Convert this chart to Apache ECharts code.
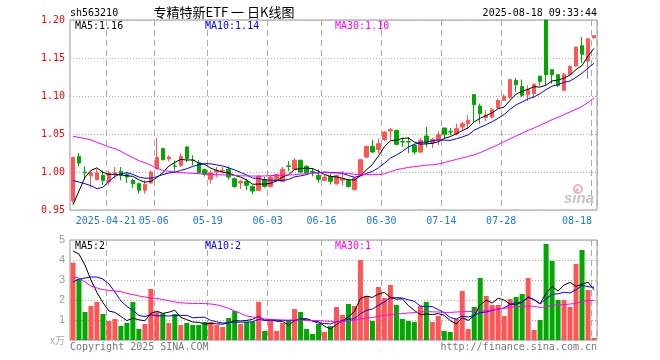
<!DOCTYPE html>
<html><head><meta charset="utf-8">
<script src="https://cdn.jsdelivr.net/npm/echarts@6.0.0/dist/echarts.min.js"></script>
<style>html,body{margin:0;padding:0;background:#fff}#c{width:660px;height:360px}</style>
</head><body><div id="c"></div>
<script>
const dates = [
'2025-04-11','2025-04-14','2025-04-15','2025-04-16','2025-04-17','2025-04-18','2025-04-21','2025-04-22','2025-04-23','2025-04-24','2025-04-25','2025-04-28','2025-04-29','2025-04-30',
'2025-05-06','2025-05-07','2025-05-08','2025-05-09','2025-05-12','2025-05-13','2025-05-14','2025-05-15','2025-05-16','2025-05-19','2025-05-20','2025-05-21','2025-05-22','2025-05-23','2025-05-26','2025-05-27','2025-05-28','2025-05-29','2025-05-30',
'2025-06-03','2025-06-04','2025-06-05','2025-06-06','2025-06-09','2025-06-10','2025-06-11','2025-06-12','2025-06-13','2025-06-16','2025-06-17','2025-06-18','2025-06-19','2025-06-20','2025-06-23','2025-06-24','2025-06-25','2025-06-26','2025-06-27','2025-06-30',
'2025-07-01','2025-07-02','2025-07-03','2025-07-04','2025-07-07','2025-07-08','2025-07-09','2025-07-10','2025-07-11','2025-07-14','2025-07-15','2025-07-16','2025-07-17','2025-07-18','2025-07-21','2025-07-22','2025-07-23','2025-07-24','2025-07-25','2025-07-28','2025-07-29','2025-07-30','2025-07-31',
'2025-08-01','2025-08-04','2025-08-05','2025-08-06','2025-08-07','2025-08-08','2025-08-11','2025-08-12','2025-08-13','2025-08-14','2025-08-15','2025-08-18'];

const tickDates  = ['2025-04-21','2025-05-06','2025-05-19','2025-06-03','2025-06-16','2025-06-30','2025-07-14','2025-07-28','2025-08-18'];
const tickLabels = ['2025-04-21','05-06','05-19','06-03','06-16','06-30','07-14','07-28','08-18'];

const openP = [
0.962,1.0206,1.000,0.995,0.990,0.9956,0.987,0.998,1.001,0.9965,
0.989,0.9846,0.976,0.9855,1.0044,1.0307,1.0171,1.008,1.0087,1.0329,
1.0155,1.012,1.003,0.9903,1.000,1.0015,1.0035,0.9912,0.9855,0.9877,
0.981,0.976,0.990,0.981,0.989,0.9877,1.008,1.0035,1.0154,1.0075,
1.001,0.9956,0.989,0.9943,0.9846,0.989,0.989,0.9768,0.9956,1.0197,
1.0338,1.0294,1.0425,1.0539,1.0548,1.0399,1.040,1.0351,1.0263,1.0474,
1.0382,1.0417,1.0579,1.053,1.0504,1.0592,1.0636,1.1018,1.0868,1.0715,
1.0724,1.0846,1.0943,1.0978,1.1206,1.1127,1.1018,1.1031,1.1259,1.200,
1.1346,1.1281,1.1075,1.1285,1.1395,1.1662,1.146,1.1768];
const highP = [
1.020,1.025,1.0075,1.002,1.004,1.002,1.002,1.0066,1.0066,1.000,
0.991,0.986,0.989,1.0022,1.045,1.032,1.022,1.0154,1.025,1.0338,
1.022,1.0154,1.0044,1.0022,1.0066,1.0066,1.0075,0.993,0.990,0.9912,
0.9825,0.9956,0.9934,0.9956,0.9978,1.0066,1.0145,1.0184,1.0162,1.0088,
1.0053,1.0035,0.9965,0.9978,0.9965,1.0013,0.9912,0.9934,1.0162,1.0338,
1.0425,1.0439,1.054,1.0579,1.0557,1.0452,1.0461,1.0373,1.0452,1.0592,
1.0452,1.0539,1.0579,1.0579,1.0636,1.0658,1.0746,1.1018,1.090,1.0811,
1.0842,1.0965,1.1022,1.1228,1.1237,1.1215,1.114,1.1162,1.1272,1.200,
1.1346,1.1281,1.1303,1.1404,1.1645,1.1776,1.1754,1.1794];
const lowP = [
0.960,1.0075,0.992,0.980,0.989,0.983,0.983,0.991,0.989,0.9855,
0.979,0.9715,0.9715,0.985,1.003,1.0154,1.014,1.000,1.0066,1.0132,
1.0087,0.998,0.994,0.9846,0.993,0.998,0.990,0.9794,0.9776,0.976,
0.9706,0.9746,0.9794,0.980,0.988,0.987,1.0013,1.0022,0.9987,0.9978,
0.9943,0.986,0.988,0.9833,0.9833,0.9825,0.9794,0.976,0.9947,1.0184,
1.025,1.0241,1.0408,1.0417,1.035,1.0329,1.025,1.0232,1.025,1.0329,
1.0316,1.0351,1.0439,1.0482,1.0482,1.0548,1.057,1.065,1.0636,1.0671,
1.0702,1.0833,1.0934,1.0965,1.1053,1.0987,1.0934,1.0974,1.114,1.114,
1.1162,1.1118,1.1066,1.1281,1.1382,1.1434,1.1228,1.1754];
const closeP = [
1.019,1.0118,0.999,0.9987,0.999,0.989,0.9987,0.999,0.9956,0.9934,
0.9846,0.976,0.9838,1.000,1.019,1.0162,1.0197,1.0075,1.0205,1.0175,
1.015,0.999,0.997,0.999,1.002,1.0022,0.9934,0.981,0.9877,0.9825,
0.975,0.9943,0.981,0.9934,0.9965,1.0035,1.0075,1.0154,1.000,0.999,
1.0005,0.9904,0.9934,0.9877,0.9956,0.9912,0.981,0.992,1.0162,1.0338,
1.0263,1.0373,1.0526,1.0557,1.0364,1.0395,1.0395,1.0263,1.0417,1.0382,
1.043,1.0491,1.0496,1.0526,1.057,1.0636,1.068,1.0886,1.0768,1.0746,
1.082,1.0943,1.0996,1.1215,1.1149,1.1009,1.1083,1.1154,1.1193,1.1281,
1.1281,1.114,1.1285,1.139,1.1645,1.1548,1.1754,1.1794];

const ma5 = [
0.957,0.975,0.993,1.002,1.0055,0.9995,0.9969,0.9969,0.9963,0.9951,
0.9943,0.9897,0.9867,0.9876,0.9927,0.999,1.0077,1.0125,1.0166,1.0157,
1.0160,1.0118,1.0099,1.0050,1.0022,0.9998,0.9987,0.9955,0.9933,0.9894,
0.9839,0.9841,0.9841,0.9852,0.988,0.9937,0.9964,1.0033,1.0046,1.0051,
1.0045,1.0011,0.9967,0.9942,0.9935,0.9917,0.9898,0.9895,0.9952,1.0028,
1.0099,1.0211,1.0332,1.0411,1.0417,1.0443,1.0447,1.0395,1.0367,1.037,
1.0377,1.0397,1.0443,1.0465,1.0503,1.0544,1.0582,1.066,1.0708,1.0743,
1.078,1.0833,1.0855,1.0944,1.1025,1.1062,1.109,1.1122,1.1118,1.1144,
1.1198,1.121,1.1236,1.1275,1.1348,1.1402,1.1524,1.1626];
const ma10 = [
0.9886,0.9868,0.9846,0.982,0.978,0.980,0.9877,0.9943,0.9978,0.999,
0.9969,0.9933,0.9918,0.9919,0.9939,0.9966,0.9987,0.9996,1.0021,1.0043,
1.0073,1.0096,1.0109,1.0108,1.0093,1.008,1.0054,1.0027,0.9994,0.9961,
0.9921,0.9914,0.9898,0.9893,0.9887,0.9888,0.9902,0.9937,0.9949,0.9966,
0.9991,0.9987,1.000,0.9994,0.9993,0.9981,0.9954,0.9931,0.9947,0.9982,
1.0008,1.0055,1.0114,1.0182,1.0223,1.0271,1.0329,1.0364,1.0389,1.0394,
1.041,1.0422,1.0419,1.0416,1.0437,1.0461,1.0489,1.0551,1.0587,1.0623,
1.0662,1.0707,1.0757,1.0826,1.0884,1.0921,1.0962,1.0988,1.1031,1.1084,
1.113,1.115,1.1179,1.1197,1.1246,1.13,1.1367,1.1431];
const ma30 = [
1.0471,1.0454,1.0441,1.0421,1.039,1.036,1.0329,1.0307,1.0272,1.0228,
1.0189,1.0149,1.0123,1.0088,1.0048,1.0022,1.0009,1.000,0.9991,0.9987,
0.9982,0.9978,0.9974,0.9969,0.9965,0.9962,0.996,0.9955,0.995,0.9948,
0.9947,0.9947,0.9947,0.9952,0.9956,0.9958,0.996,0.9965,0.9974,0.9978,
0.9987,0.9991,0.9991,0.9987,0.9988,0.9985,0.998,0.997,0.9966,0.9965,
0.9965,0.9967,0.9975,1.0005,1.003,1.0045,1.006,1.007,1.008,1.009,
1.0095,1.0105,1.0125,1.0145,1.0165,1.0185,1.0205,1.0225,1.0255,1.029,
1.0325,1.036,1.04,1.0437,1.0475,1.051,1.0548,1.058,1.0615,1.065,
1.0689,1.072,1.0755,1.079,1.0825,1.0862,1.0915,1.0975];

const vol = [
3.87,3.05,1.40,1.70,1.90,1.30,0.95,1.05,0.70,0.85,
1.90,0.55,0.80,2.55,1.40,1.33,0.85,1.30,0.75,0.85,
0.75,0.75,0.90,0.90,0.75,0.65,1.10,1.45,0.80,0.90,
0.90,1.90,0.45,1.00,0.45,0.85,1.00,1.55,1.40,0.55,
0.30,0.80,0.40,0.70,1.65,1.25,1.80,1.70,4.00,2.20,
0.95,2.65,2.10,2.75,1.75,1.05,0.95,0.90,1.70,1.90,
0.90,1.20,0.45,0.40,1.05,2.45,0.55,1.65,3.10,2.20,
1.75,1.75,1.20,2.05,2.15,2.30,3.10,0.50,1.00,4.80,
3.95,2.00,2.00,1.65,3.80,4.50,2.50,0.10];
const vma5 = [
4.45,4.30,3.75,3.00,2.38,1.87,1.45,1.38,1.18,0.97,
1.09,1.01,0.96,1.33,1.44,1.33,1.39,1.49,1.13,1.02,
0.90,0.88,0.80,0.83,0.81,0.79,0.86,0.97,0.95,0.98,
1.03,1.19,0.99,1.03,0.94,0.93,0.75,0.97,1.05,1.07,
0.96,0.92,0.69,0.55,0.77,0.96,1.16,1.42,2.08,2.19,
2.13,2.30,2.38,2.13,2.04,2.06,1.72,1.48,1.27,1.30,
1.27,1.32,1.23,0.97,0.80,1.11,0.98,1.22,1.76,1.99,
1.85,2.09,2.00,1.79,1.78,1.89,2.16,2.02,1.81,2.34,
2.67,2.45,2.75,2.88,2.68,2.79,2.89,2.51];
const vma10 = [
2.90,3.05,3.10,3.15,3.15,3.05,2.80,2.40,1.95,1.68,
1.48,1.23,1.17,1.26,1.21,1.21,1.20,1.22,1.23,1.23,
1.11,1.13,1.14,0.98,0.91,0.85,0.87,0.89,0.89,0.90,
0.91,1.03,0.98,0.99,0.96,0.98,0.97,0.98,1.04,1.01,
0.95,0.84,0.83,0.80,0.92,0.96,1.04,1.06,1.32,1.48,
1.55,1.73,1.90,2.11,2.12,2.10,2.01,1.93,1.70,1.67,
1.67,1.52,1.36,1.12,1.05,1.19,1.15,1.23,1.37,1.40,
1.48,1.54,1.61,1.78,1.89,1.87,2.13,2.01,1.80,2.06,
2.28,2.31,2.39,2.35,2.51,2.73,2.67,2.63];
const vma30 = [
3.15,3.10,2.90,2.70,2.60,2.52,2.48,2.45,2.42,2.33,
2.27,2.20,2.15,2.10,2.08,2.02,1.97,1.90,1.86,1.84,
1.83,1.83,1.82,1.80,1.76,1.68,1.58,1.45,1.33,1.20,
1.15,1.12,1.05,1.03,1.02,1.00,1.00,1.00,1.00,0.98,
0.97,0.97,0.95,0.93,0.90,0.92,0.95,0.98,1.05,1.10,
1.12,1.18,1.22,1.27,1.30,1.32,1.35,1.37,1.40,1.42,
1.41,1.40,1.38,1.38,1.40,1.42,1.42,1.43,1.45,1.47,
1.50,1.55,1.58,1.63,1.67,1.68,1.70,1.68,1.63,1.65,
1.74,1.75,1.77,1.80,1.83,1.92,1.98,1.97];

const RED = '#ff5555', GREEN = '#00a800';
const MONO = 'DejaVu Sans Mono';
const isTick = (i, v) => tickDates.indexOf(v) >= 0;
const last = a => a[a.length - 1];

function txt(x, y, text, fill, font, align) {
  return { type: 'text', x: x, y: y, z: 100, silent: true,
    style: { text: text, fill: fill, font: font, align: align || 'left', textAlign: align || 'left',
             verticalAlign: 'middle', textVerticalAlign: 'middle' } };
}

const splitV = { show: true, interval: isTick, lineStyle: { color: '#aaa', width: 1, type: [6, 4] } };
const splitH = { show: true, lineStyle: { color: '#aaa', width: 1, type: [1, 2] } };

function maLine(data, color, xi) {
  return { type: 'line', data: data, xAxisIndex: xi, yAxisIndex: xi, symbol: 'none', smooth: false,
    lineStyle: { color: color, width: 1 }, itemStyle: { color: color }, silent: true, z: 5 };
}

const option = {
  animation: false,
  backgroundColor: '#fff',
  grid: [
    { left: 70, top: 20, width: 527, height: 190, show: true, borderColor: '#999', borderWidth: 1 },
    { left: 70, top: 240, width: 527, height: 100, show: true, borderColor: '#999', borderWidth: 1 }
  ],
  xAxis: [
    { type: 'category', gridIndex: 0, data: dates, boundaryGap: true,
      axisLine: { show: false }, axisTick: { show: false }, splitLine: splitV,
      axisLabel: { interval: isTick, margin: 6,
        formatter: v => { const k = tickDates.indexOf(v); return (k === tickDates.length - 1 ? '{e|' : '{n|') + tickLabels[k] + '}'; },
        rich: {
          n: { color: '#1a7ad8', fontFamily: MONO, fontSize: 10, padding: [0, 6, 0, 0] },
          e: { color: '#1a7ad8', fontFamily: MONO, fontSize: 10, padding: [0, 34, 0, 0] }
        } } },
    { type: 'category', gridIndex: 1, data: dates, boundaryGap: true,
      axisLine: { show: false }, axisTick: { show: false }, axisLabel: { show: false }, splitLine: splitV }
  ],
  yAxis: [
    { type: 'value', gridIndex: 0, min: 0.95, max: 1.20, interval: 0.05, scale: true,
      axisLine: { show: false }, axisTick: { show: false }, splitLine: splitH,
      axisLabel: { formatter: v => v.toFixed(2), color: '#ff0000', fontFamily: MONO, fontSize: 10, margin: 5 } },
    { type: 'value', gridIndex: 1, min: 0, max: 5, interval: 1,
      axisLine: { show: false }, axisTick: { show: false }, splitLine: splitH,
      axisLabel: { margin: 5,
        formatter: v => v === 0 ? '{u|x万}' : '{g|' + v + '}',
        rich: { g: { color: '#999', fontFamily: 'Liberation Sans', fontSize: 11 },
                u: { color: '#aaa', fontFamily: 'Noto Sans CJK SC', fontSize: 10 } } } }
  ],
  series: [
    { type: 'candlestick', xAxisIndex: 0, yAxisIndex: 0, barWidth: 4, z: 3,
      data: openP.map((o, i) => [o, closeP[i], lowP[i], highP[i]]),
      itemStyle: { color: RED, color0: GREEN, borderColor: RED, borderColor0: GREEN, borderWidth: 1 } },
    maLine(ma5, '#000000', 0),
    maLine(ma10, '#0000ff', 0),
    maLine(ma30, '#ff00ff', 0),
    { type: 'bar', xAxisIndex: 1, yAxisIndex: 1, barWidth: 5, z: 3,
      data: vol.map((v, i) => ({ value: v, itemStyle: { color: closeP[i] >= openP[i] ? RED : GREEN } })) },
    maLine(vma5, '#000000', 1),
    maLine(vma10, '#0000ff', 1),
    maLine(vma30, '#ff00ff', 1)
  ],
  graphic: [
    txt(70, 13, 'sh563210', '#000', '10px ' + MONO),
    txt(224, 12, '专精特新ETF 一 日K线图', '#000', '13px "Noto Sans CJK SC"', 'center'),
    txt(597, 13, '2025-08-18 09:33:44', '#000', '10px ' + MONO, 'right'),
    txt(75, 26, 'MA5:' + last(ma5).toFixed(2), '#000', '10px ' + MONO),
    txt(205, 26, 'MA10:' + last(ma10).toFixed(2), '#0000ff', '10px ' + MONO),
    txt(335, 26, 'MA30:' + last(ma30).toFixed(2), '#ff00ff', '10px ' + MONO),
    txt(75, 246, 'MA5:' + Math.floor(last(vma5)), '#000', '10px ' + MONO),
    txt(205, 246, 'MA10:' + Math.floor(last(vma10)), '#0000ff', '10px ' + MONO),
    txt(335, 246, 'MA30:' + Math.floor(last(vma30)), '#ff00ff', '10px ' + MONO),
    txt(70, 347, 'Copyright 2025 SINA.COM', '#777', '10px ' + MONO),
    txt(597, 347, 'http://finance.sina.com.cn', '#777', '10px ' + MONO, 'right'),
    { type: 'circle', z: 1, silent: true, shape: { cx: 578, cy: 189, r: 4 },
      style: { fill: 'none', stroke: '#f2b0b0', lineWidth: 2 } },
    { type: 'circle', z: 1, silent: true, shape: { cx: 577, cy: 190, r: 1.5 },
      style: { fill: '#bbb' } },
    txt(564, 199, 'sina', '#c4c4c4', 'italic bold 15px "Liberation Sans"')
  ]
};

const chart = echarts.init(document.getElementById('c'), null, { renderer: 'canvas', width: 660, height: 360 });
chart.setOption(option);
</script>
</body></html>
